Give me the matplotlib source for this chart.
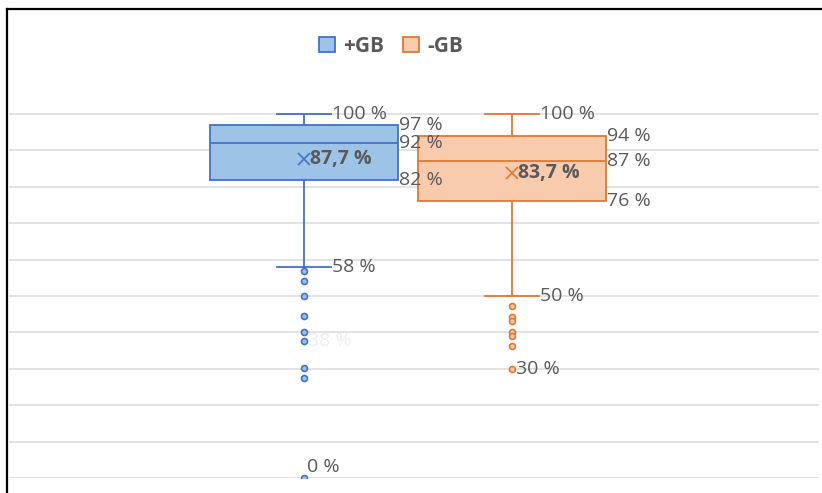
import matplotlib.pyplot as plt
from matplotlib.patches import Patch
from matplotlib.lines import Line2D

plt.rcParams['font.family'] = ['Open Sans', 'DejaVu Sans']

# Box plot statistics (percent)
groups = ['+GB', '-GB']
whis_hi = [100, 100]
q3 = [97, 94]
medians = [92, 87]
means = [87.7, 83.7]
q1 = [82, 76]
whis_lo = [58, 50]
fliers = [
    [57, 54, 50, 44.5, 40.2, 37.7, 30.1, 27.5, 0],
    [47.3, 44.3, 43.2, 40.2, 39.1, 36.3, 30],
]
# outliers that carry a data label: (group index, value, text, colour)
flier_labels = [(0, 37.7, '38 %', '#EDEDED'), (1, 30, '30 %', '#595959'),
                (0, 0, '0 %', '#595959')]

edge = ['#4472C4', '#E2782F']
face = ['#9DC3E6', '#F8CBAD']
txt = '#595959'

W, H = 822, 493
fig = plt.figure(figsize=(W / 100, H / 100), dpi=100)
# axes: 0 % at y=478px, 100 % at y=114px, x from 9 to 819px
px_per_pct = (478 - 114) / 100
ymax = 110
ax = fig.add_axes([9 / W, (H - 478) / H, 810 / W, ymax * px_per_pct / H])
ax.set_ylim(0, ymax)
ax.set_xlim(-0.418, 3.476)
positions = [1, 2]
box_w = 0.9
cap_w = 0.264

stats = []
for i in range(2):
    stats.append(dict(label=groups[i], med=medians[i], q1=q1[i], q3=q3[i],
                      whislo=whis_lo[i], whishi=whis_hi[i], mean=means[i],
                      fliers=fliers[i]))

for i in range(2):
    ax.bxp([stats[i]], positions=[positions[i]], widths=box_w, capwidths=cap_w,
           patch_artist=True, showmeans=True, showfliers=True,
           boxprops=dict(facecolor=face[i], edgecolor=edge[i], linewidth=1.3),
           medianprops=dict(color=edge[i], linewidth=1.3),
           whiskerprops=dict(color=edge[i], linewidth=1.3),
           capprops=dict(color=edge[i], linewidth=1.3),
           meanprops=dict(marker='x', markeredgecolor=edge[i], markersize=9,
                          markeredgewidth=1.2),
           flierprops=dict(marker='o', markersize=4.3, markerfacecolor=face[i],
                           markeredgecolor=edge[i], markeredgewidth=1.2))

ax.set_yticks(range(0, 101, 10))
ax.yaxis.grid(True, color='#DEDEDE', linewidth=1.2)
ax.set_axisbelow(True)
ax.tick_params(left=False, bottom=False, labelleft=False, labelbottom=False)
for s in ax.spines.values():
    s.set_visible(False)

fs = 14


def label(x, y, s, dx=1, dy=0, **kw):
    kw.setdefault('color', txt)
    ax.annotate(s, xy=(x, y), xytext=(dx, dy), textcoords='offset pixels',
                ha='left', va='center', fontsize=fs, annotation_clip=False, **kw)


for i, p in enumerate(positions):
    label(p + cap_w / 2, whis_hi[i], f'{whis_hi[i]} %')
    label(p + cap_w / 2, whis_lo[i], f'{whis_lo[i]} %')
    for v in (q3[i], medians[i], q1[i]):
        label(p + box_w / 2, v, f'{v} %')
    label(p, means[i], f'{means[i]:.1f} %'.replace('.', ','), dx=6,
          fontweight='bold')

for gi, v, s, c in flier_labels:
    if v == 0:
        label(positions[gi], v, s, dx=3, dy=11, color=c)
    else:
        label(positions[gi], v, s, dx=4, color=c)

handles = [Patch(facecolor=face[i], edgecolor=edge[i], linewidth=1.3,
                 label=groups[i]) for i in range(2)]
fig.legend(handles=handles, loc='center', bbox_to_anchor=(391 / W, 1 - 46 / H),
           ncol=2, frameon=False, handlelength=0.75, handleheight=0.75,
           handletextpad=0.4, columnspacing=0.9,
           prop=dict(size=15, weight='bold'), labelcolor=txt)

# black frame along top and left edge
fig.add_artist(Line2D([7 / W, 1], [1 - 9 / H, 1 - 9 / H], color='black',
                      linewidth=1.6, transform=fig.transFigure))
fig.add_artist(Line2D([7 / W, 7 / W], [0, 1 - 9 / H], color='black',
                      linewidth=1.6, transform=fig.transFigure))

fig.savefig('out.png', dpi=100)
